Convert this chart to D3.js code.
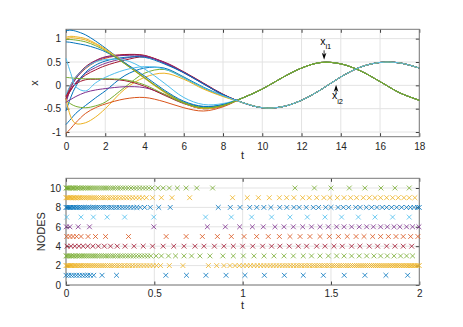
<!DOCTYPE html>
<html>
<head>
<meta charset="utf-8">
<script src="https://cdn.jsdelivr.net/npm/d3@7"></script>
<style>
  body { margin: 0; background: #fff; }
  svg text { font-family: "Liberation Sans", Arial, sans-serif; }
</style>
</head>
<body>
<div id="container"></div>
<script>
/* CONSTANTS */
const width = 463,
  height = 327,
  panelA = { left: 66, right: 419.3, top: 29.3, bottom: 136.7 },
  panelB = { left: 66, right: 419.3, top: 178.3, bottom: 285 },
  tickLen = 3.5;

const blue = "#0072BD", orange = "#D95319", yellow = "#EDB120", purple = "#7E2F8E",
  green = "#77AC30", cyan = "#4DBEEE", crimson = "#A2142F";

/* DATA - top panel, states x over time t */
const tEarly = [0, 0.25, 0.5, 1, 1.5, 2, 3, 4, 5, 6, 7, 8];
const tLate = [9, 10, 11, 12, 13, 14, 15, 16, 17, 18];
// both groups settle onto one shared trajectory each
const tailA = [-0.27, -0.08, 0.16, 0.37, 0.49, 0.46, 0.31, 0.08, -0.16, -0.32];
const tailB = [-0.37, -0.48, -0.46, -0.32, -0.09, 0.18, 0.39, 0.49, 0.48, 0.37];

// group A (ends on x_i1)
const highBlue = [1.17, 1.18, 1.16, 1.08, 0.95, 0.80, 0.48, 0.16, -0.13, -0.36, -0.46, -0.42];
const highYellow = [1.03, 1.05, 1.04, 1.00, 0.90, 0.78, 0.48, 0.17, -0.13, -0.37, -0.49, -0.43];
const highYellow2 = [1.00, 1.02, 1.01, 0.97, 0.88, 0.76, 0.46, 0.15, -0.15, -0.38, -0.50, -0.44];
const highGreen = [0.98, 0.98, 0.97, 0.93, 0.85, 0.74, 0.46, 0.16, -0.13, -0.37, -0.48, -0.43];
const highBlue2 = [0.93, 0.92, 0.90, 0.86, 0.80, 0.72, 0.48, 0.20, -0.10, -0.34, -0.45, -0.41];
const midCyan = [-0.20, 0.02, 0.18, 0.38, 0.50, 0.55, 0.54, 0.35, 0.05, -0.26, -0.41, -0.39];
const flatGreen = [0.17, 0.16, 0.15, 0.14, 0.14, 0.14, 0.12, 0.01, -0.19, -0.38, -0.48, -0.43];
const flatCrimson = [-0.28, -0.10, 0.03, 0.12, 0.13, 0.13, 0.10, -0.02, -0.21, -0.39, -0.50, -0.44];
const lowPurple = [-0.36, -0.30, -0.24, -0.15, -0.10, -0.07, -0.03, -0.05, -0.19, -0.38, -0.50, -0.44];
const lowOrange = [-1.03, -0.92, -0.80, -0.60, -0.48, -0.40, -0.29, -0.26, -0.35, -0.48, -0.55, -0.46];

// group B (ends on x_i2)
const riseOrange = [-0.30, -0.02, 0.15, 0.36, 0.50, 0.58, 0.65, 0.64, 0.49, 0.28, 0.04, -0.20];
const riseCrimson = [-0.25, 0.02, 0.18, 0.40, 0.53, 0.61, 0.66, 0.64, 0.48, 0.28, 0.04, -0.20];
const risePurple = [-0.38, -0.05, 0.14, 0.38, 0.52, 0.60, 0.64, 0.63, 0.48, 0.27, 0.03, -0.20];
const slowCrimson = [-0.22, -0.08, 0.05, 0.22, 0.33, 0.42, 0.54, 0.61, 0.50, 0.29, 0.05, -0.19];
const slowPurple = [-0.30, -0.10, 0.06, 0.26, 0.38, 0.47, 0.58, 0.62, 0.49, 0.28, 0.04, -0.20];
const riseBlue = [-0.55, -0.25, -0.02, 0.28, 0.43, 0.52, 0.60, 0.60, 0.46, 0.27, 0.03, -0.20];
const dipCyan = [0.58, 0.25, -0.03, -0.12, 0.05, 0.17, 0.33, 0.40, 0.35, 0.16, -0.05, -0.22];
const lowBlue = [-0.84, -0.72, -0.60, -0.43, -0.27, -0.12, 0.21, 0.37, 0.37, 0.18, -0.04, -0.22];
const lowGreen = [-0.33, -0.40, -0.45, -0.48, -0.44, -0.36, -0.04, 0.26, 0.34, 0.16, -0.06, -0.23];
const lowYellow = [-0.28, -0.68, -0.82, -0.80, -0.68, -0.50, -0.08, 0.17, 0.26, 0.13, -0.08, -0.24];

const xTicksA = [0, 2, 4, 6, 8, 10, 12, 14, 16, 18];
const yTicksA = [-1, -0.5, 0, 0.5, 1];

/* DATA - bottom panel, event times per node */
const node1 = [0, 0.015, 0.03, 0.045, 0.06, 0.076, 0.092, 0.108, 0.123, 0.138, 0.157, 0.204, 0.286,
  0.565, 0.682, 0.792, 0.906, 1.013, 1.123, 1.236, 1.343, 1.457, 1.575, 1.692, 1.811, 1.934];
const node2 = [0, 0.006, 0.012, 0.018, 0.025, 0.032, 0.039, 0.047, 0.055, 0.063, 0.072, 0.081, 0.09,
  0.1, 0.11, 0.12, 0.13, 0.141, 0.152, 0.163, 0.174, 0.186, 0.198, 0.21, 0.222, 0.235, 0.248, 0.261,
  0.274, 0.288, 0.302, 0.316, 0.331, 0.346, 0.361, 0.376, 0.392, 0.408, 0.424, 0.441, 0.458, 0.475,
  0.493, 0.512, 0.535, 0.585, 0.662, 0.806, 0.853, 0.894, 0.928, 0.957, 0.981, 1.003, 1.024, 1.044,
  1.064, 1.083, 1.102, 1.12, 1.138, 1.156, 1.173, 1.19, 1.207, 1.224, 1.24, 1.256, 1.272, 1.288,
  1.304, 1.319, 1.334, 1.349, 1.364, 1.379, 1.394, 1.408, 1.422, 1.436, 1.45, 1.464, 1.478, 1.492,
  1.506, 1.519, 1.532, 1.545, 1.558, 1.571, 1.584, 1.597, 1.61, 1.622, 1.634, 1.646, 1.658, 1.67,
  1.682, 1.694, 1.706, 1.718, 1.729, 1.74, 1.751, 1.762, 1.773, 1.784, 1.795, 1.806, 1.817, 1.828,
  1.838, 1.848, 1.858, 1.868, 1.878, 1.888, 1.898, 1.908, 1.918, 1.928, 1.937, 1.946, 1.955, 1.964,
  1.973, 1.982, 1.991, 2.0];
const node3 = [0, 0.007, 0.014, 0.021, 0.029, 0.037, 0.045, 0.054, 0.063, 0.072, 0.081, 0.091, 0.101,
  0.111, 0.121, 0.132, 0.143, 0.154, 0.165, 0.177, 0.189, 0.201, 0.213, 0.226, 0.239, 0.252, 0.265,
  0.279, 0.293, 0.307, 0.321, 0.336, 0.351, 0.366, 0.381, 0.397, 0.413, 0.429, 0.446, 0.463, 0.48,
  0.51, 0.54, 0.58, 0.62, 0.668, 0.711, 0.758, 0.815, 0.888, 0.947, 1.004, 1.064, 1.121, 1.177, 1.234,
  1.287, 1.343, 1.39, 1.438, 1.485, 1.532, 1.574, 1.617, 1.66, 1.702, 1.743, 1.781, 1.819, 1.857,
  1.894, 1.928, 1.962];
const node4 = [0.006, 0.028, 0.05, 0.073, 0.097, 0.123, 0.152, 0.183, 0.217, 0.252, 0.29, 0.334, 0.385,
  0.437, 0.49, 0.55, 0.61, 0.668, 0.73, 0.781, 0.84, 0.894, 0.947, 1.0, 1.057, 1.113, 1.164, 1.211,
  1.264, 1.315, 1.362, 1.419, 1.466, 1.517, 1.564, 1.617, 1.664, 1.717, 1.764, 1.815, 1.862, 1.909, 1.957];
const node5 = [0.004, 0.022, 0.04, 0.06, 0.085, 0.125, 0.167, 0.224, 0.354, 0.567, 0.68, 0.772, 0.857,
  0.936, 1.008, 1.079, 1.145, 1.208, 1.268, 1.325, 1.381, 1.438, 1.491, 1.542, 1.592, 1.642, 1.687,
  1.736, 1.781, 1.825, 1.868, 1.909, 1.951, 1.992];
const node6 = [0.002, 0.022, 0.069, 0.133, 0.497, 0.8, 0.902, 0.983, 1.055, 1.117, 1.183, 1.234, 1.287,
  1.34, 1.39, 1.438, 1.485, 1.532, 1.574, 1.617, 1.66, 1.702, 1.74, 1.781, 1.819, 1.857, 1.89, 1.928,
  1.962, 1.998];
const node7 = [0.004, 0.085, 0.155, 0.233, 0.332, 0.497, 0.79, 0.936, 1.051, 1.164, 1.268, 1.366, 1.466,
  1.56, 1.655, 1.749, 1.849, 1.943];
const node8 = [0, 0.006, 0.012, 0.019, 0.026, 0.034, 0.042, 0.05, 0.059, 0.068, 0.077, 0.087, 0.097,
  0.107, 0.118, 0.129, 0.14, 0.152, 0.164, 0.176, 0.189, 0.202, 0.215, 0.229, 0.243, 0.257, 0.272,
  0.287, 0.302, 0.318, 0.334, 0.35, 0.367, 0.384, 0.401, 0.42, 0.445, 0.477, 0.525, 0.59, 0.862, 0.93,
  0.985, 1.04, 1.08, 1.12, 1.16, 1.21, 1.25, 1.29, 1.32, 1.36, 1.4, 1.43, 1.47, 1.5, 1.54, 1.57, 1.6,
  1.64, 1.665, 1.7, 1.73, 1.76, 1.79, 1.815, 1.843, 1.872, 1.9, 1.928, 1.95, 1.97, 1.99, 2.0];
const node9 = [0, 0.006, 0.012, 0.019, 0.026, 0.033, 0.041, 0.049, 0.057, 0.066, 0.075, 0.084, 0.094,
  0.104, 0.114, 0.125, 0.136, 0.147, 0.159, 0.171, 0.183, 0.196, 0.209, 0.222, 0.236, 0.25, 0.265,
  0.28, 0.295, 0.311, 0.327, 0.344, 0.361, 0.378, 0.396, 0.414, 0.433, 0.455, 0.49, 0.54, 0.6, 0.7,
  0.943, 1.026, 1.089, 1.151, 1.208, 1.249, 1.29, 1.34, 1.377, 1.419, 1.46, 1.494, 1.536, 1.574,
  1.611, 1.645, 1.683, 1.717, 1.749, 1.781, 1.815, 1.849, 1.881, 1.913, 1.943, 1.975];
const node10 = [0, 0.006, 0.012, 0.018, 0.025, 0.032, 0.039, 0.046, 0.054, 0.062, 0.07, 0.078, 0.087,
  0.096, 0.105, 0.115, 0.125, 0.135, 0.145, 0.156, 0.167, 0.178, 0.19, 0.202, 0.214, 0.226, 0.239,
  0.252, 0.265, 0.279, 0.293, 0.307, 0.322, 0.337, 0.352, 0.368, 0.384, 0.4, 0.417, 0.434, 0.451,
  0.469, 0.487, 0.52, 0.55, 0.585, 0.63, 0.68, 0.74, 0.83, 1.296, 1.406, 1.5, 1.604, 1.692, 1.783,
  1.862, 1.943];

const xTicksB = [0, 0.5, 1, 1.5, 2];
const yTicksB = [0, 2, 4, 6, 8, 10];

/* TABLES built from the arrays */
const tAll = tEarly.concat(tLate);
const curves = [
  { v: riseOrange.concat(tailB), c: orange },
  { v: riseCrimson.concat(tailB), c: crimson },
  { v: risePurple.concat(tailB), c: purple },
  { v: slowCrimson.concat(tailB), c: crimson },
  { v: slowPurple.concat(tailB), c: purple },
  { v: riseBlue.concat(tailB), c: blue },
  { v: lowBlue.concat(tailB), c: blue },
  { v: lowGreen.concat(tailB), c: green },
  { v: lowYellow.concat(tailB), c: yellow },
  { v: lowOrange.concat(tailA), c: orange },
  { v: lowPurple.concat(tailA), c: purple },
  { v: flatCrimson.concat(tailA), c: crimson },
  { v: midCyan.concat(tailA), c: cyan },
  { v: highBlue.concat(tailA), c: blue },
  { v: highYellow.concat(tailA), c: yellow },
  { v: highYellow2.concat(tailA), c: yellow },
  { v: highBlue2.concat(tailA), c: blue },
  { v: flatGreen.concat(tailA), c: green },
  { v: highGreen.concat(tailA), c: green },
  { v: dipCyan.concat(tailB), c: cyan }
];
const nodes = [node1, node2, node3, node4, node5, node6, node7, node8, node9, node10];
const nodeColors = [blue, yellow, green, crimson, orange, purple, cyan, blue, yellow, green];

/* SCALES */
const xA = d3.scaleLinear().domain([0, 18]).range([panelA.left, panelA.right]);
const yA = d3.scaleLinear().domain([-1.1, 1.2]).range([panelA.bottom, panelA.top]);
const xB = d3.scaleLinear().domain([0, 2]).range([panelB.left, panelB.right]);
const yB = d3.scaleLinear().domain([0, 11]).range([panelB.bottom, panelB.top]);

const svg = d3.select("#container")
  .append("svg")
  .attr("width", width)
  .attr("height", height);

// grid, box and inward ticks on all four sides, like a matlab axes
function drawAxes(p, xs, ys, xTicks, yTicks, pad) {
  const g = svg.append("g");
  g.selectAll(".gx").data(xTicks).join("line")
    .attr("x1", d => xs(d)).attr("x2", d => xs(d))
    .attr("y1", p.top).attr("y2", p.bottom)
    .attr("stroke", "#e3e3e3");
  g.selectAll(".gy").data(yTicks).join("line")
    .attr("class", "gy")
    .attr("x1", p.left).attr("x2", p.right)
    .attr("y1", d => ys(d)).attr("y2", d => ys(d))
    .attr("stroke", "#e3e3e3");

  const fmt = d => String(d);
  g.append("g").attr("transform", `translate(0,${p.bottom})`)
    .call(d3.axisBottom(xs).tickValues(xTicks).tickSizeInner(-tickLen).tickSizeOuter(0).tickPadding(pad).tickFormat(fmt));
  g.append("g").attr("transform", `translate(${p.left},0)`)
    .call(d3.axisLeft(ys).tickValues(yTicks).tickSizeInner(-tickLen).tickSizeOuter(0).tickPadding(5).tickFormat(fmt));
  g.append("g").attr("transform", `translate(0,${p.top})`)
    .call(d3.axisTop(xs).tickValues(xTicks).tickSizeInner(-tickLen).tickSizeOuter(0).tickFormat(""));
  g.append("g").attr("transform", `translate(${p.right},0)`)
    .call(d3.axisRight(ys).tickValues(yTicks).tickSizeInner(-tickLen).tickSizeOuter(0).tickFormat(""));

  g.selectAll(".domain").remove();
  g.selectAll(".tick line").attr("stroke", "#404040");
  g.selectAll(".tick text")
    .attr("fill", "#262626")
    .style("font-size", "10px")
    .style("font-family", "'Liberation Sans', Arial, sans-serif");

  g.append("rect")
    .attr("x", p.left).attr("y", p.top)
    .attr("width", p.right - p.left).attr("height", p.bottom - p.top)
    .attr("fill", "none")
    .attr("stroke", "#7a7a7a");
  return g;
}

/* TOP PANEL */
drawAxes(panelA, xA, yA, xTicksA, yTicksA, 6);

const line = d3.line()
  .x(d => xA(d[0]))
  .y(d => yA(d[1]))
  .curve(d3.curveCatmullRom.alpha(0.5));

svg.append("g")
  .selectAll("path")
  .data(curves)
  .join("path")
  .attr("d", d => line(d.v.map((v, i) => [tAll[i], v])))
  .attr("fill", "none")
  .attr("stroke", d => d.c)
  .attr("stroke-width", 1);

// arrows for x_i1 / x_i2
const arrows = [
  { t: 13.15, from: 0.75, to: 0.55, lt: 12.95, lv: 0.87, sub: "i1" },
  { t: 13.76, from: -0.17, to: 0.01, lt: 13.55, lv: -0.30, sub: "i2" }
];
arrows.forEach(a => {
  const x = xA(a.t), y0 = yA(a.from), y1 = yA(a.to);
  const dir = y1 > y0 ? 1 : -1;
  svg.append("line")
    .attr("x1", x).attr("x2", x)
    .attr("y1", y0).attr("y2", y1 - dir * 3)
    .attr("stroke", "#000").attr("stroke-width", 0.8);
  svg.append("path")
    .attr("d", `M${x},${y1}L${x - 2.3},${y1 - dir * 7}L${x},${y1 - dir * 5}L${x + 2.3},${y1 - dir * 7}Z`)
    .attr("fill", "#000");
  const label = svg.append("text")
    .attr("x", xA(a.lt)).attr("y", yA(a.lv))
    .attr("fill", "#000")
    .style("font-size", "10.5px");
  label.append("tspan").text("x");
  label.append("tspan").attr("dy", 4.5).style("font-size", "7.5px").text(a.sub);
});

svg.append("text")
  .attr("x", (panelA.left + panelA.right) / 2).attr("y", 159)
  .attr("text-anchor", "middle").attr("fill", "#262626")
  .style("font-size", "11px").text("t");
svg.append("text")
  .attr("transform", `translate(38,${(panelA.top + panelA.bottom) / 2}) rotate(-90)`)
  .attr("text-anchor", "middle").attr("fill", "#262626")
  .style("font-size", "11px").text("x");

/* BOTTOM PANEL */
drawAxes(panelB, xB, yB, xTicksB, yTicksB, 4.6);

const cross = "M-2.4,-2.4L2.4,2.4M-2.4,2.4L2.4,-2.4";
nodes.forEach((times, i) => {
  svg.append("g")
    .selectAll("path")
    .data(times)
    .join("path")
    .attr("transform", d => `translate(${xB(d)},${yB(i + 1)})`)
    .attr("d", cross)
    .attr("fill", "none")
    .attr("stroke", nodeColors[i])
    .attr("stroke-width", 0.8);
});

svg.append("text")
  .attr("x", (panelB.left + panelB.right) / 2).attr("y", 309)
  .attr("text-anchor", "middle").attr("fill", "#262626")
  .style("font-size", "11px").text("t");
svg.append("text")
  .attr("transform", `translate(45,${(panelB.top + panelB.bottom) / 2}) rotate(-90)`)
  .attr("text-anchor", "middle").attr("fill", "#262626")
  .style("font-size", "11px").text("NODES");
</script>
</body>
</html>
